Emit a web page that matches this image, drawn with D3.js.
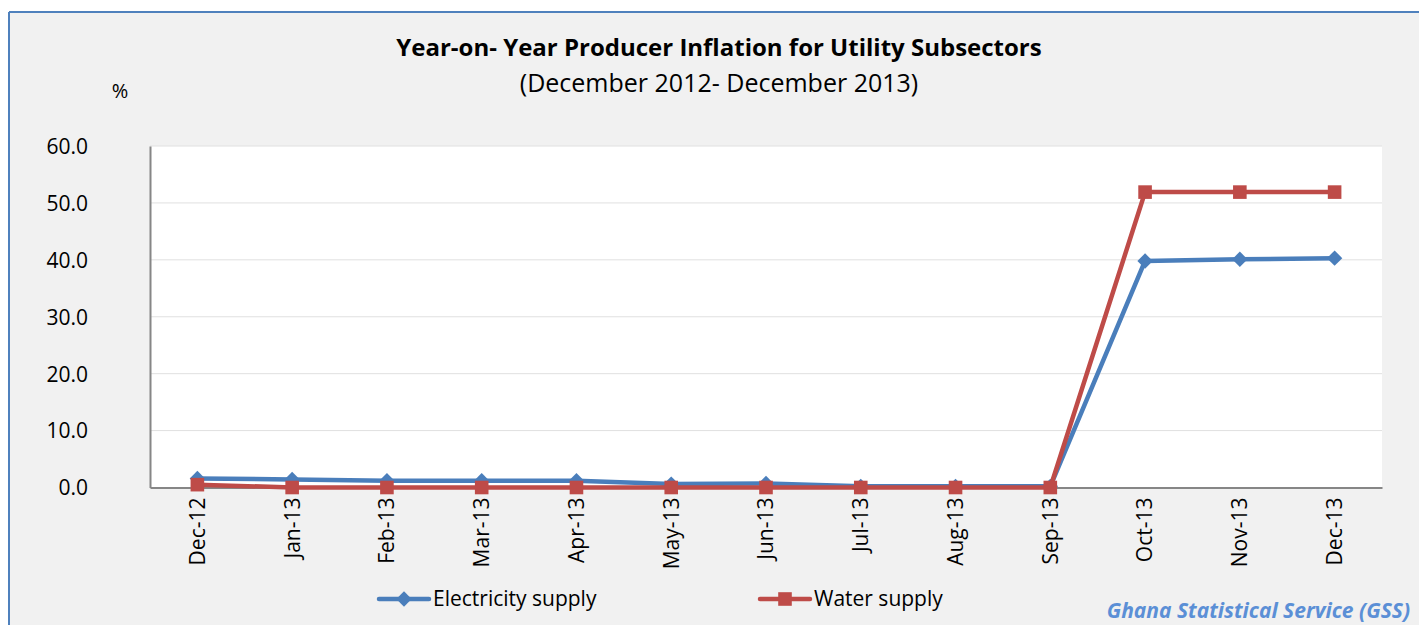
<!DOCTYPE html>
<html>
<head>
<meta charset="utf-8">
<script src="https://cdn.jsdelivr.net/npm/d3@7"></script>
<style>
  body { margin: 0; background: #ffffff; }
  text { font-family: "Open Sans", "Noto Sans", sans-serif; }
</style>
</head>
<body>
<div id="chart"></div>
<script>
//----------------------------------------------------------------
// donnees
var mois = ["Dec-12","Jan-13","Feb-13","Mar-13","Apr-13","May-13","Jun-13",
            "Jul-13","Aug-13","Sep-13","Oct-13","Nov-13","Dec-13"];
var electricite = [1.6, 1.4, 1.2, 1.2, 1.2, 0.6, 0.7, 0.2, 0.2, 0.2, 39.8, 40.1, 40.3];
var eau = [0.5, 0.0, 0.0, 0.0, 0.0, 0.0, 0.0, 0.0, 0.0, 0.0, 51.9, 51.9, 51.9];
var ticksY = [0, 10, 20, 30, 40, 50, 60];
var series = [
  { nom: "Electricity supply", valeurs: electricite, couleur: "#4a7ebb", losange: true },
  { nom: "Water supply", valeurs: eau, couleur: "#be4b48", losange: false }
];

//----------------------------------------------------------------
// svg
var largeur = 1419, hauteur = 625;
var svg = d3.select("#chart").append("svg")
  .attr("width", largeur)
  .attr("height", hauteur);

// fond + cadre
svg.append("rect")
  .attr("x", 9).attr("y", 12)
  .attr("width", largeur).attr("height", hauteur)
  .attr("fill", "#f1f1f1");
svg.append("line")
  .attr("x1", 9).attr("y1", 12).attr("x2", largeur).attr("y2", 12)
  .attr("stroke", "#4f81bd").attr("stroke-width", 2);
svg.append("line")
  .attr("x1", 9).attr("y1", 12).attr("x2", 9).attr("y2", hauteur)
  .attr("stroke", "#4f81bd").attr("stroke-width", 2);

var marge = { haut: 146, gauche: 150, droite: 1382, bas: 487.5 };

var x = d3.scaleBand()
  .domain(mois)
  .range([marge.gauche, marge.droite]);
var y = d3.scaleLinear()
  .domain([0, 60])
  .range([marge.bas, marge.haut]);

// marqueur : carre, tourne de 45 degres pour le losange
function marqueur(sel, s) {
  sel.attr("d", d3.symbol().type(d3.symbolSquare).size(s.losange ? 118 : 185))
    .attr("fill", s.couleur);
}

// zone du graphe
svg.append("rect")
  .attr("x", marge.gauche).attr("y", marge.haut)
  .attr("width", marge.droite - marge.gauche)
  .attr("height", marge.bas - marge.haut)
  .attr("fill", "#ffffff");

// grille
svg.append("g")
  .selectAll("line")
  .data(ticksY.slice(1))
  .enter().append("line")
  .attr("x1", marge.gauche).attr("x2", marge.droite)
  .attr("y1", function(d){ return y(d); })
  .attr("y2", function(d){ return y(d); })
  .attr("stroke", "#e0e0e0").attr("stroke-width", 1);

// axe y
var axeY = svg.append("g")
  .attr("transform", "translate(" + marge.gauche + ",0)")
  .call(d3.axisLeft(y).tickValues(ticksY).tickFormat(d3.format(".1f")).tickSize(0).tickPadding(0));
axeY.attr("font-family", null).attr("font-size", null);
axeY.select(".domain").attr("stroke", "#868686").attr("stroke-width", 2);
axeY.selectAll("text")
  .attr("x", -62)
  .attr("text-anchor", "end")
  .attr("font-size", "21px")
  .attr("fill", "#000")
  .attr("dy", "0.35em");

// axe x
var axeX = svg.append("g")
  .attr("transform", "translate(0," + marge.bas + ")")
  .call(d3.axisBottom(x).tickSize(0).tickPadding(0));
axeX.attr("font-family", null).attr("font-size", null);
axeX.select(".domain").attr("stroke", "#868686").attr("stroke-width", 2);
axeX.selectAll("text")
  .attr("transform", "rotate(-90)")
  .attr("x", -10)
  .attr("y", 0)
  .attr("dy", "0.35em")
  .attr("text-anchor", "end")
  .attr("font-size", "21px")
  .attr("fill", "#000");

// lignes
var ligne = d3.line()
  .x(function(d, i){ return x(mois[i]) + x.bandwidth() / 2; })
  .y(function(d){ return y(d); });

series.forEach(function(s){
  svg.append("path")
    .datum(s.valeurs)
    .attr("fill", "none")
    .attr("stroke", s.couleur)
    .attr("stroke-width", 4.5)
    .attr("stroke-linejoin", "round")
    .attr("d", ligne);
  svg.append("g").selectAll("path")
    .data(s.valeurs)
    .enter().append("path")
    .call(marqueur, s)
    .attr("transform", function(d, i){
      return "translate(" + (x(mois[i]) + x.bandwidth() / 2) + "," + y(d) + ")" + (s.losange ? " rotate(45)" : "");
    });
});

// titres
svg.append("text")
  .attr("x", 719).attr("y", 56)
  .attr("text-anchor", "middle")
  .attr("font-family", "Lato, sans-serif")
  .attr("font-weight", "bold")
  .attr("font-size", "24px")
  .text("Year-on- Year Producer Inflation for Utility Subsectors");
svg.append("text")
  .attr("x", 719).attr("y", 92)
  .attr("text-anchor", "middle")
  .attr("font-family", "Lato, sans-serif")
  .attr("font-size", "25px")
  .text("(December 2012- December 2013)");
svg.append("text")
  .attr("x", 120).attr("y", 98)
  .attr("text-anchor", "middle")
  .attr("font-size", "20px")
  .text("%");

// legende
var posLegende = [379, 760];
series.forEach(function(s, i){
  var g = svg.append("g").attr("transform", "translate(" + posLegende[i] + ",599)");
  g.append("line")
    .attr("x1", 0).attr("x2", 50)
    .attr("stroke", s.couleur).attr("stroke-width", 4.5).attr("stroke-linecap", "round");
  g.append("path")
    .call(marqueur, s)
    .attr("transform", "translate(25,0)" + (s.losange ? " rotate(45)" : ""));
  g.append("text")
    .attr("x", 54).attr("y", 0).attr("dy", "0.35em")
    .attr("font-family", "Lato, sans-serif")
    .attr("font-size", "21px")
    .text(s.nom);
});

// source
svg.append("text")
  .attr("x", 1410).attr("y", 618)
  .attr("text-anchor", "end")
  .attr("font-family", "Lato, sans-serif")
  .attr("font-style", "italic")
  .attr("font-weight", "bold")
  .attr("font-size", "21px")
  .attr("fill", "#5b8fd6")
  .text("Ghana Statistical Service (GSS)");
</script>
</body>
</html>
